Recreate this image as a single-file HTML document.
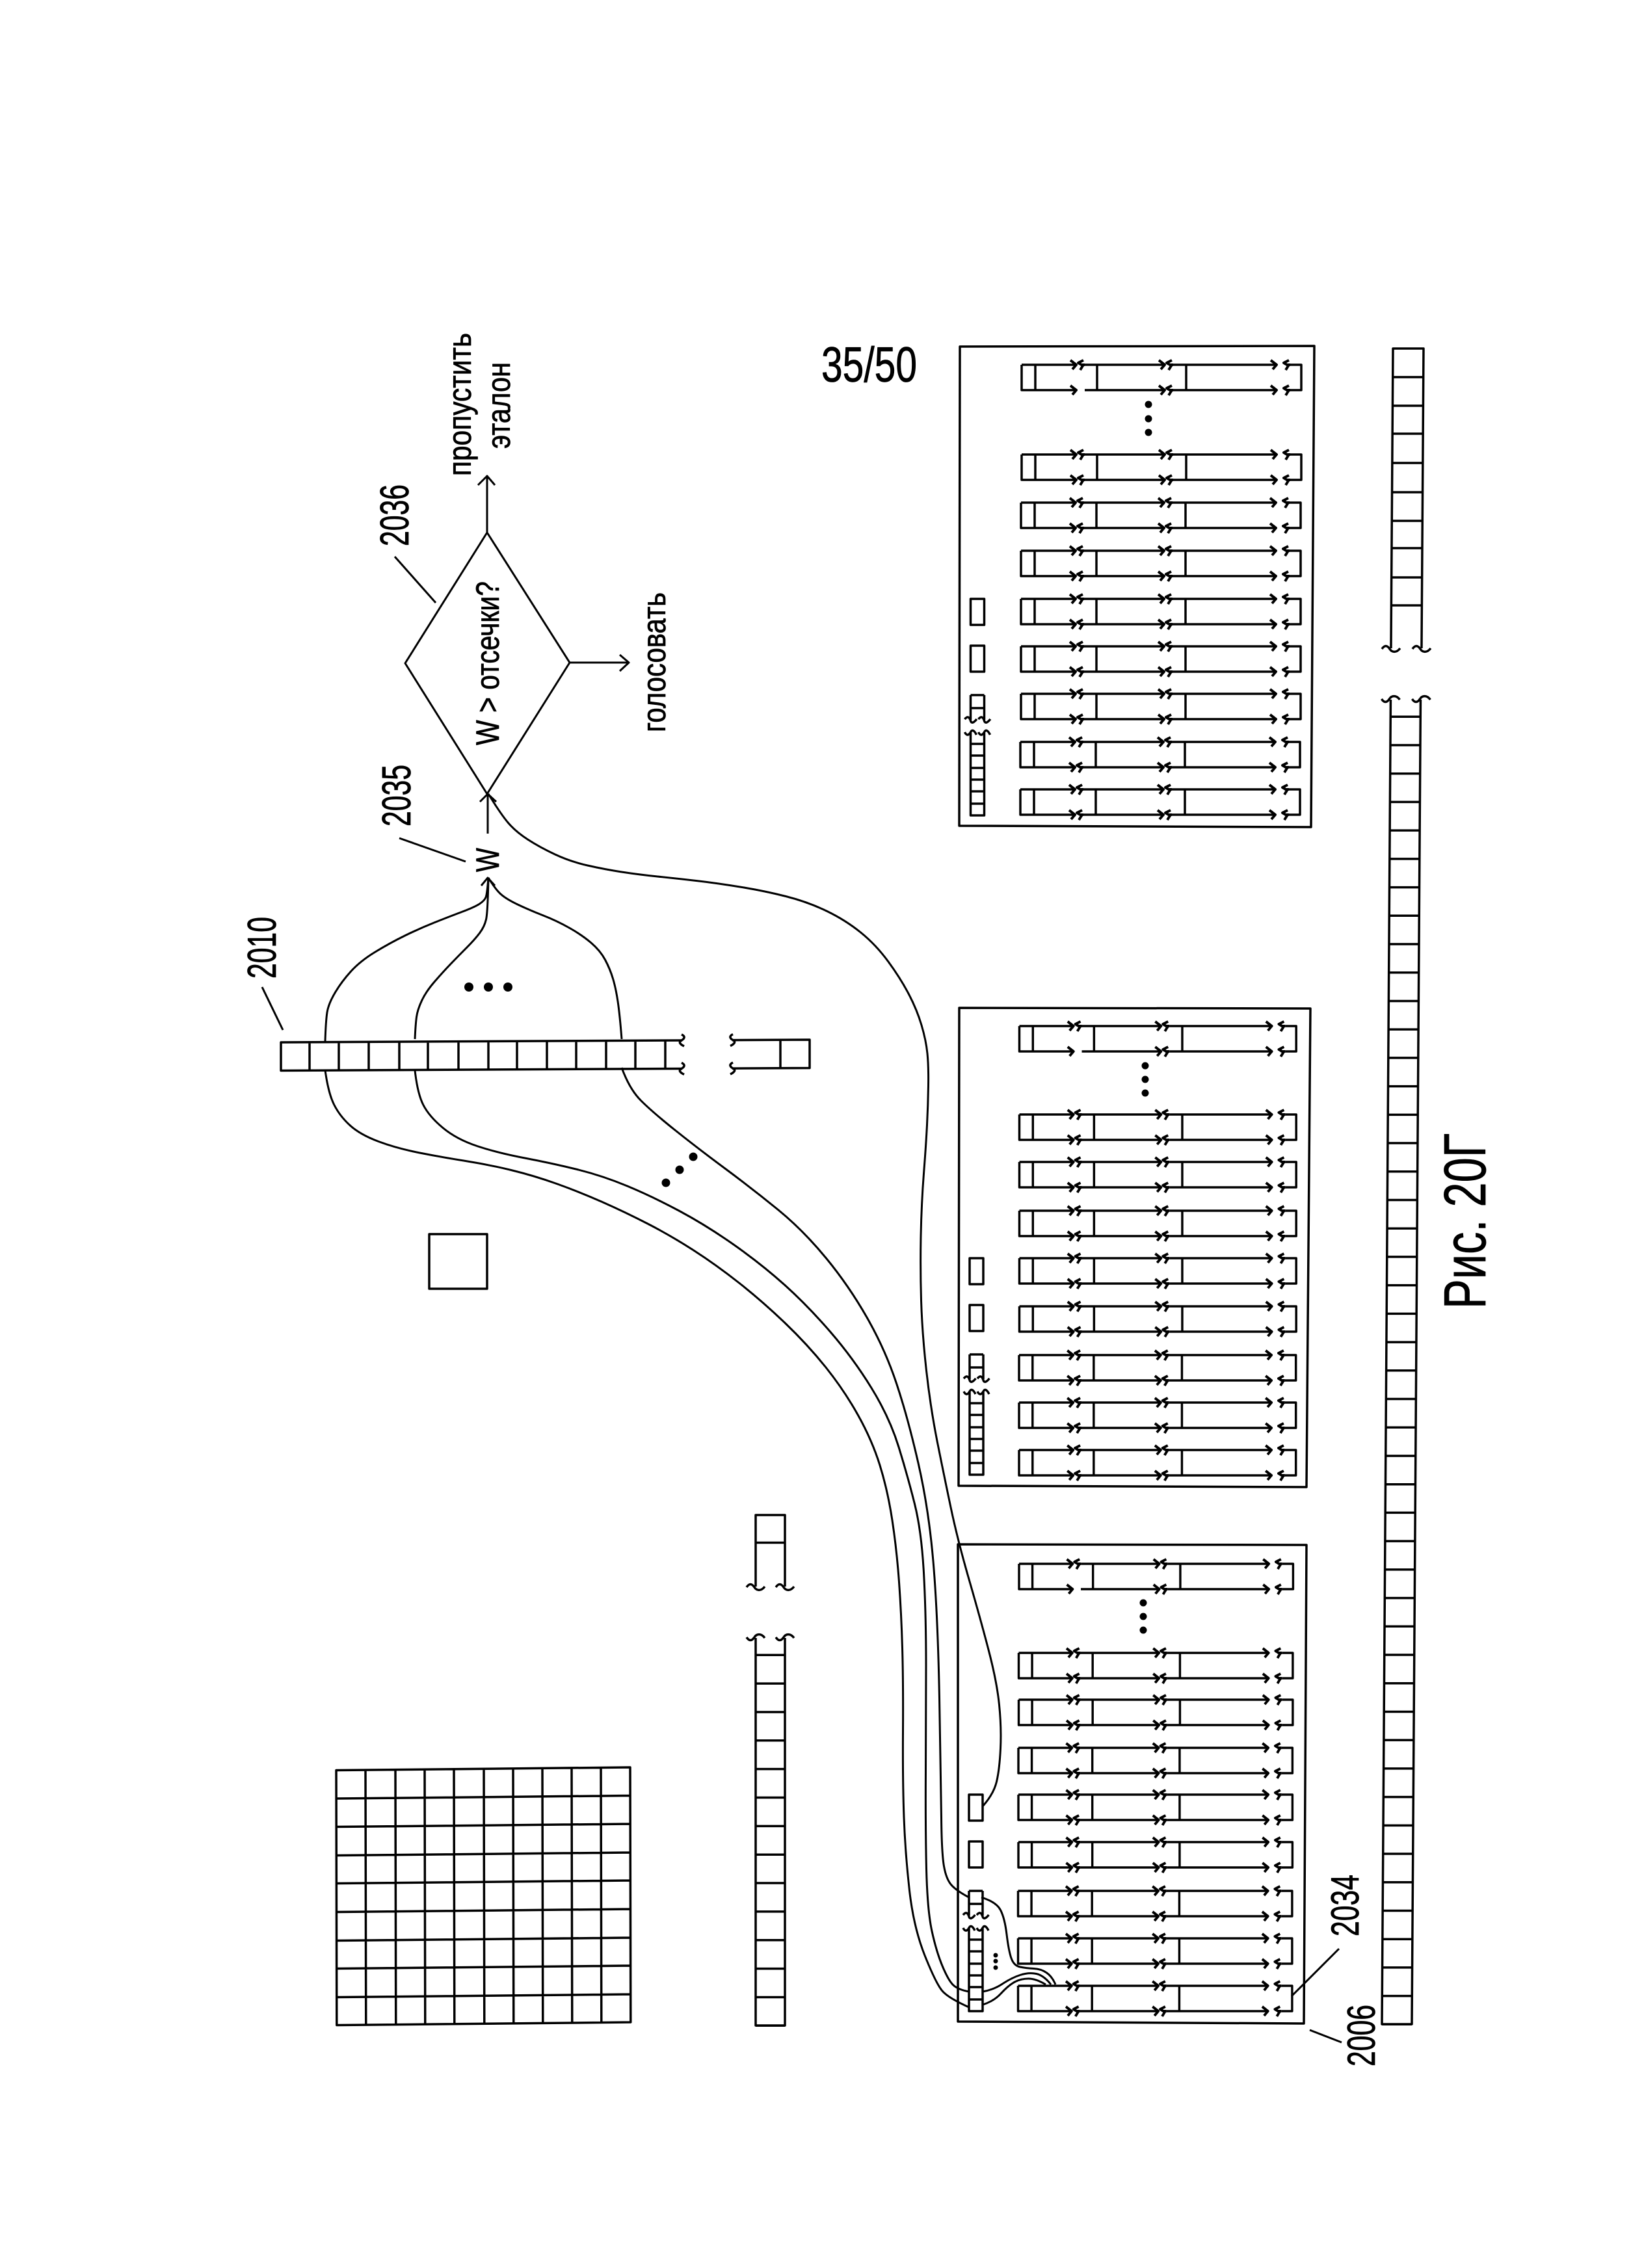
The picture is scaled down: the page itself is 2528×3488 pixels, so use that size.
<!DOCTYPE html>
<html lang="ru"><head><meta charset="utf-8"><title>Рис. 20Г</title>
<style>html,body{margin:0;padding:0;background:#fff}svg{display:block}text{font-family:"Liberation Sans","DejaVu Sans",sans-serif;fill:#000;stroke:#000;stroke-width:.8}</style></head>
<body>
<svg xmlns="http://www.w3.org/2000/svg" width="2528" height="3488" viewBox="0 0 2528 3488" fill="none" stroke="#000" stroke-width="3.5" stroke-linejoin="round">
<defs>
<path id="w" d="M-14 1C-10-5-6-5-2 1C1 6 8 8 14 0"/>
<path id="sw" d="M-9 1C-6-5-3-4 0 1C2 5 5 5 9-3" />
<path id="m" stroke-width="4" d="M95 32L87 36L92 39H97M95 39L90 47"/>
<g id="r">
<path d="M0 0H84M97 0H220M233 0H392M413 0H430V39H413M392 39H233M220 39H97M84 39H0V0M21 0V39M116 0V39M253 0V39"/>
<path stroke-width="4" d="M75-7L84 0L78 7M95-7L87-3L92 0H97M95 0L90 8M211-7L220 0L214 7M231-7L223-3L228 0H233M231 0L226 8M383-7L392 0L386 7M411-7L403-3L408 0H413M411 0L406 8M75 32L84 39L78 46M211 32L220 39L214 46M231 32L223 36L228 39H233M231 39L226 47M383 32L392 39L386 46M411 32L403 36L408 39H413M411 39L406 47"/>
</g>
<g id="R"><use href="#r"/><use href="#m"/></g>
<g id="st">
<path d="M0 0H21V40H0ZM0 72H21V112H0ZM0 148H21M0 168H21M0 148V186M21 148V186M0 206V333H21V206M0 223H21M0 241H21M0 260H21M0 278H21M0 296H21M0 315H21"/>
<use href="#sw" transform="translate(0,186) rotate(12)"/><use href="#sw" transform="translate(21,186) rotate(12)"/>
<use href="#sw" transform="translate(0,206) scale(1,-1)"/><use href="#sw" transform="translate(21,206) scale(1,-1)"/>
</g>
</defs>

<!-- labels -->
<text transform="translate(1263,587)" font-size="76" textLength="147" lengthAdjust="spacingAndGlyphs">35/50</text>
<text transform="translate(2284,2013) rotate(-90)" font-size="91" textLength="270" lengthAdjust="spacingAndGlyphs">Рис. 20Г</text>
<text transform="translate(724,732) rotate(-90)" font-size="50" textLength="220" lengthAdjust="spacingAndGlyphs">пропустить</text>
<text transform="translate(784,690) rotate(-90)" font-size="50" textLength="133" lengthAdjust="spacingAndGlyphs">эталон</text>
<text transform="translate(1023,1126) rotate(-90)" font-size="50" textLength="215" lengthAdjust="spacingAndGlyphs">голосовать</text>
<text transform="translate(767,1146) rotate(-90)" font-size="50" textLength="252" lengthAdjust="spacingAndGlyphs">W &gt; отсечки?</text>
<text transform="translate(767,1341) rotate(-90)" font-size="50" textLength="37" lengthAdjust="spacingAndGlyphs">W</text>
<text transform="translate(628,840) rotate(-90)" font-size="62" textLength="95" lengthAdjust="spacingAndGlyphs">2036</text>
<text transform="translate(631,1271) rotate(-90)" font-size="62" textLength="95" lengthAdjust="spacingAndGlyphs">2035</text>
<text transform="translate(424,1505) rotate(-90)" font-size="62" textLength="95" lengthAdjust="spacingAndGlyphs">2010</text>
<text transform="translate(2089,2978) rotate(-90)" font-size="60" textLength="95" lengthAdjust="spacingAndGlyphs">2034</text>
<text transform="translate(2114,3178) rotate(-90)" font-size="60" textLength="95" lengthAdjust="spacingAndGlyphs">2006</text>

<!-- leaders -->
<path d="M607 856L670 927M614 1289L716 1325M403 1518L435 1584M2059 2997L1986 3070M2014 3122L2063 3141" stroke-width="3"/>

<!-- diamond & arrows -->
<path d="M749 819L876 1019L749 1221L623 1020Z" stroke-width="3"/>
<path d="M749 819V732M735 746L749 732L761 746M876 1019H967M953 1007L967 1019L953 1032M750 1282V1221M738 1233L750 1221L763 1233M740 1362L750 1350L761 1362" stroke-width="3"/>

<g stroke-width="3">
<!-- curves to W -->
<path d="M500 1602Q501 1570 503 1557Q505 1544 515 1527Q525 1510 539.5 1494Q554 1478 577 1464Q600 1450 622.5 1439Q645 1428 667.5 1419Q690 1410 710 1402.5Q730 1395 737.5 1390Q745 1385 747 1380Q749 1375 751 1350"/>
<path d="M638 1598Q639 1575 640.5 1564Q642 1553 648.5 1539Q655 1525 668 1510Q681 1495 693 1482.5Q705 1470 717.5 1457.5Q730 1445 737.5 1435Q745 1425 747.5 1414Q750 1403 751 1350"/>
<path d="M956 1598Q953 1560 950 1540Q947 1520 942.5 1505Q938 1490 930.5 1476Q923 1462 909 1450Q895 1438 875.5 1427Q856 1416 835.5 1408Q815 1400 797 1391.5Q779 1383 770.5 1375.5Q762 1368 751 1350"/>
<!-- curve from diamond to side box -->
<path d="M751 1221Q770 1252 781.5 1265.5Q793 1279 811.5 1291Q830 1303 853.5 1314Q877 1325 903.5 1331Q930 1337 956 1341Q982 1345 1011 1348Q1040 1351 1070.5 1354.5Q1101 1358 1138 1364Q1175 1370 1208.5 1378.5Q1242 1387 1271 1401Q1300 1415 1323.5 1434Q1347 1453 1366 1479Q1385 1505 1397.5 1529Q1410 1553 1417 1576.5Q1424 1600 1426 1620Q1428 1640 1427.5 1670Q1427 1700 1425.5 1730Q1424 1760 1420.5 1805Q1417 1850 1416 1900Q1415 1950 1416.5 2000Q1418 2050 1424.5 2108Q1431 2166 1441.5 2218.5Q1452 2271 1462.5 2320.5Q1473 2370 1490.5 2430.5Q1508 2491 1520.5 2539Q1533 2587 1536.5 2622Q1540 2657 1538.5 2689Q1537 2721 1532.5 2740Q1528 2759 1511 2778"/>
<!-- three curves -->
<path d="M500 1646Q505 1682 514 1699.5Q523 1717 538.5 1731Q554 1745 582 1755.5Q610 1766 645.5 1773Q681 1780 716 1785.5Q751 1791 786 1799.5Q821 1808 856 1820.5Q891 1833 926 1848.5Q961 1864 996 1882Q1031 1900 1066 1922.5Q1101 1945 1136.5 1973Q1172 2001 1207 2034.5Q1242 2068 1270 2103Q1298 2138 1319.5 2176.5Q1341 2215 1353 2253.5Q1365 2292 1372 2338Q1379 2384 1382.5 2433Q1386 2482 1387.5 2534.5Q1389 2587 1388.5 2663.5Q1388 2740 1390 2795Q1392 2850 1398.5 2907.5Q1405 2965 1422.5 3008.5Q1440 3052 1449.5 3062.5Q1459 3073 1490 3087"/>
<path d="M638 1646Q642 1682 651 1699.5Q660 1717 681 1734.5Q702 1752 733.5 1762.5Q765 1773 807 1781Q849 1789 887.5 1798.5Q926 1808 964.5 1824Q1003 1840 1045 1862.5Q1087 1885 1129.5 1915Q1172 1945 1207 1976.5Q1242 2008 1277 2048.5Q1312 2089 1340 2134.5Q1368 2180 1382 2225.5Q1396 2271 1406.5 2313Q1417 2355 1420.5 2418.5Q1424 2482 1424 2561Q1424 2640 1423.5 2725Q1423 2810 1424.5 2874Q1426 2938 1433 2970Q1440 3002 1449.5 3024.5Q1459 3047 1466.5 3053.5Q1474 3060 1490 3063"/>
<path d="M956 1642Q968 1675 985.5 1692.5Q1003 1710 1038 1738Q1073 1766 1115.5 1797.5Q1158 1829 1196.5 1860.5Q1235 1892 1270 1934.5Q1305 1977 1333 2026Q1361 2075 1378.5 2127.5Q1396 2180 1412 2250Q1428 2320 1435 2401Q1442 2482 1444.5 2611Q1447 2740 1447.5 2795Q1448 2850 1451.5 2870Q1455 2890 1463 2899Q1471 2908 1490 2918"/>
<!-- connections to first row -->
<path d="M1509 2918Q1532 2925 1538.5 2937.5Q1545 2950 1548 2975Q1551 3000 1555 3011.5Q1559 3023 1568.5 3025Q1578 3027 1589.5 3027.5Q1601 3028 1609.5 3034Q1618 3040 1623 3052"/>
<path d="M1511 3063Q1528 3060 1541.5 3051Q1555 3042 1568.5 3037.5Q1582 3033 1593.5 3035.5Q1605 3038 1616 3052"/>
<path d="M1511 3083Q1528 3078 1539.5 3065.5Q1551 3053 1560.5 3048Q1570 3043 1581.5 3043Q1593 3043 1608 3052"/>
</g>

<!-- dots -->
<g fill="#000" stroke="none">
<circle cx="721" cy="1518" r="7"/><circle cx="751" cy="1518" r="7"/><circle cx="781" cy="1518" r="7"/>
<circle cx="1024" cy="1819" r="6.5"/><circle cx="1045" cy="1799" r="6.5"/><circle cx="1066" cy="1779" r="6.5"/>
<circle cx="1766" cy="622" r="5.5"/><circle cx="1766" cy="644" r="5.5"/><circle cx="1766" cy="665" r="5.5"/>
<circle cx="1761" cy="1639" r="5.5"/><circle cx="1761" cy="1660" r="5.5"/><circle cx="1761" cy="1681" r="5.5"/>
<circle cx="1758" cy="2465" r="5.5"/><circle cx="1758" cy="2486" r="5.5"/><circle cx="1758" cy="2507" r="5.5"/>
<circle cx="1531" cy="3007" r="3.5"/><circle cx="1531" cy="3016" r="3.5"/><circle cx="1531" cy="3026" r="3.5"/>
</g>

<!-- bar 2010 -->
<g transform="translate(432,1603) skewY(-0.28)">
<path d="M617 0H0V43.5H617M0 0V43.5M44 0V43.5M89 0V43.5M135 0V43.5M182 0V43.5M226 0V43.5M273 0V43.5M319 0V43.5M363 0V43.5M409 0V43.5M454 0V43.5M500 0V43.5M545 0V43.5M591 0V43.5"/>
<path d="M694 0H813V43.5H694M768 0V43.5"/>
<use href="#sw" transform="translate(617,0) rotate(90)"/><use href="#sw" transform="translate(617,43.5) rotate(90)"/>
<use href="#sw" transform="translate(694,0) rotate(-90) scale(-1,1)"/><use href="#sw" transform="translate(694,43.5) rotate(-90) scale(-1,1)"/>
</g>

<!-- square -->
<rect x="660" y="1898" width="89" height="84"/>

<!-- grid -->
<g transform="matrix(1,-0.0099,0.002,1,517,2722.5)">
<path d="M0 0H452V392H0ZM0 43.5H452M0 87H452M0 131H452M0 174H452M0 218H452M0 262H452M0 305H452M0 349H452M45 0V392M91 0V392M136 0V392M181 0V392M227 0V392M272 0V392M317 0V392M362 0V392M407 0V392"/>
</g>

<!-- middle strip -->
<g transform="translate(1162,2330)">
<path d="M0 110V0H45V110M0 42.5H45M0 189V785H45V189"/>
<line x1="22.5" x2="22.5" y1="213.5" y2="790" stroke-width="45" stroke-dasharray="3.5 40.35"/>
<use href="#w" transform="translate(0,110)"/><use href="#w" transform="translate(45,110)"/>
<use href="#w" transform="translate(0,189) scale(1,-1)"/><use href="#w" transform="translate(45,189) scale(1,-1)"/>
</g>

<!-- long strip -->
<g transform="translate(2142,536) skewX(-0.378)">
<path d="M0 461V0H47V461M0 44H47M0 88H47M0 131H47M0 176H47M0 221H47M0 265H47M0 307H47M0 352H47M0 395H47M0 540V2577H46V540"/>
<line x1="23" x2="23" y1="564.5" y2="2579" stroke-width="46" stroke-dasharray="3.5 40.22"/>
<use href="#w" transform="translate(0,461)"/><use href="#w" transform="translate(47,461)"/>
<use href="#w" transform="translate(0,540) scale(1,-1)"/><use href="#w" transform="translate(47,540) scale(1,-1)"/>
</g>

<!-- panel 3 -->
<polygon points="1476,533 2021,532 2016,1272 1475,1270"/>
<use href="#r" transform="translate(1571,561)"/>
<use href="#R" transform="translate(1571,699)"/>
<use href="#R" transform="translate(1570,773)"/>
<use href="#R" transform="translate(1570,847)"/>
<use href="#R" transform="translate(1570,921)"/>
<use href="#R" transform="translate(1570,994)"/>
<use href="#R" transform="translate(1570,1067)"/>
<use href="#R" transform="translate(1569,1141)"/>
<use href="#R" transform="translate(1569,1214)"/>
<use href="#st" transform="translate(1492.5,921)"/>

<!-- panel 2 -->
<polygon points="1475,1550 2015,1551 2009,2287 1474,2285"/>
<use href="#r" transform="translate(1567.5,1578) scale(.99,1)"/>
<use href="#R" transform="translate(1567.5,1714) scale(.99,1)"/>
<use href="#R" transform="translate(1567.5,1787) scale(.99,1)"/>
<use href="#R" transform="translate(1567.5,1862) scale(.99,1)"/>
<use href="#R" transform="translate(1567.5,1935) scale(.99,1)"/>
<use href="#R" transform="translate(1567.5,2009) scale(.99,1)"/>
<use href="#R" transform="translate(1567,2084) scale(.99,1)"/>
<use href="#R" transform="translate(1567,2157) scale(.99,1)"/>
<use href="#R" transform="translate(1567,2230) scale(.99,1)"/>
<use href="#st" transform="translate(1491,1935)"/>

<!-- panel 1 -->
<polygon points="1473,2375 2009,2376 2005,3112 1473,3109"/>
<use href="#r" transform="translate(1567,2405) scale(.98,1)"/>
<use href="#R" transform="translate(1566.5,2542) scale(.98,1)"/>
<use href="#R" transform="translate(1566.5,2614) scale(.98,1)"/>
<use href="#R" transform="translate(1566,2688) scale(.98,1)"/>
<use href="#R" transform="translate(1566,2760) scale(.98,1)"/>
<use href="#R" transform="translate(1566,2833) scale(.98,1)"/>
<use href="#R" transform="translate(1565.5,2908) scale(.98,1)"/>
<use href="#R" transform="translate(1565.5,2981) scale(.98,1)"/>
<use href="#R" transform="translate(1565.5,3054) scale(.98,1)"/>
<use href="#st" transform="translate(1490,2760)"/>
</svg>
</body></html>
